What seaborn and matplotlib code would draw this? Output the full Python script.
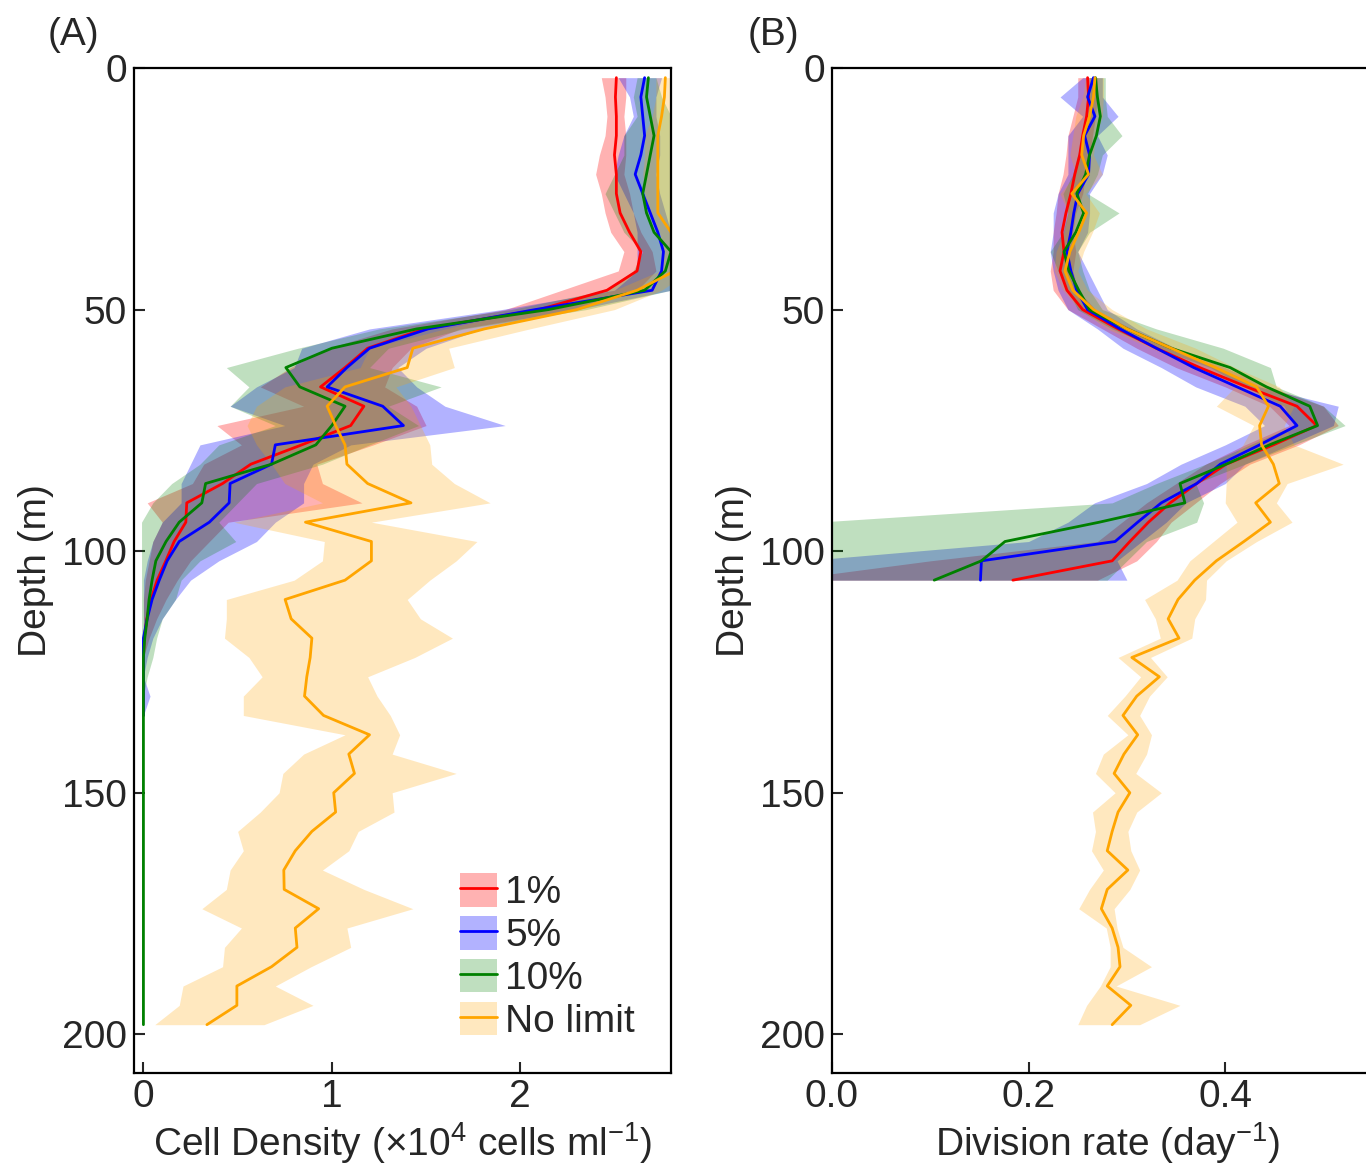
import numpy as np
import pandas as pd
import matplotlib
matplotlib.use("Agg")
import matplotlib.pyplot as plt
import seaborn as sns
from matplotlib.patches import Patch
from matplotlib.lines import Line2D

# ---------------- data ----------------
depth = [2, 6, 10, 14, 18, 22, 26, 30, 34, 38, 42, 46, 50, 54, 58, 62, 66, 70, 74, 78,
         82, 86, 90, 94, 98, 102, 106, 110, 114, 118, 122, 126, 130, 134, 138, 142, 146,
         150, 154, 158, 162, 166, 170, 174, 178, 182, 186, 190, 194, 198]

labels = ["1%", "5%", "10%", "No limit"]

# Panel A : cell density (x10^4 cells/ml)
dens_1 = [2.51, 2.505, 2.51, 2.51, 2.50, 2.51, 2.51, 2.53, 2.58, 2.64, 2.62, 2.46, 2.10,
          1.49, 1.19, 1.07, 0.94, 1.17, 1.10, 0.84, 0.57, 0.42, 0.23, 0.225, 0.163, 0.119,
          0.073, 0.04, 0.018, 0.004, 0.0, 0.0, 0.0, 0.0]
dens_1_lo = [2.43, 2.45, 2.46, 2.45, 2.42, 2.40, 2.43, 2.45, 2.48, 2.55, 2.52, 2.22, 1.92,
             1.32, 0.98, 0.78, 0.62, 0.85, 0.39, 0.52, 0.32, 0.26, 0.02, 0.10, 0.05, 0.03,
             0.01, 0.0, 0.0, 0.0, 0.0, 0.0, 0.0, 0.0]
dens_1_hi = [2.56, 2.56, 2.55, 2.56, 2.56, 2.55, 2.58, 2.60, 2.64, 2.70, 2.72, 2.62, 2.30,
             1.68, 1.42, 1.32, 1.28, 1.45, 1.50, 1.22, 0.92, 0.95, 1.16, 0.45, 0.35, 0.25,
             0.18, 0.12, 0.07, 0.03, 0.0, 0.0, 0.0, 0.0]

dens_5 = [2.66, 2.64, 2.65, 2.66, 2.64, 2.61, 2.65, 2.69, 2.73, 2.76, 2.75, 2.70, 2.08,
          1.51, 1.20, 1.08, 0.975, 1.27, 1.38, 0.70, 0.68, 0.46, 0.455, 0.35, 0.19, 0.126,
          0.084, 0.046, 0.02, 0.0, 0.0, 0.0, 0.0, 0.0]
dens_5_lo = [2.52, 2.58, 2.60, 2.55, 2.52, 2.50, 2.55, 2.60, 2.62, 2.62, 2.62, 2.50, 1.90,
             1.20, 0.84, 0.80, 0.60, 0.46, 0.75, 0.30, 0.25, 0.20, 0.20, 0.10, 0.05, 0.02,
             0.0, 0.0, 0.0, 0.0, 0.0, 0.0, 0.0, 0.0]
dens_5_hi = [2.75, 2.72, 2.72, 2.74, 2.74, 2.72, 2.74, 2.77, 2.80, 2.85, 2.85, 2.80, 2.30,
             1.80, 1.50, 1.35, 1.45, 1.60, 1.92, 1.10, 0.90, 0.85, 0.85, 0.70, 0.60, 0.40,
             0.25, 0.17, 0.10, 0.05, 0.02, 0.0, 0.035, 0.0]

dens_10 = [2.68, 2.67, 2.69, 2.71, 2.69, 2.67, 2.65, 2.67, 2.71, 2.80, 2.77, 2.66, 2.15,
           1.45, 1.00, 0.756, 0.83, 1.07, 1.00, 0.915, 0.68, 0.33, 0.31, 0.19, 0.12, 0.066,
           0.046, 0.03, 0.02, 0.007, 0.0, 0.0, 0.0, 0.0, 0.0, 0.0, 0.0, 0.0, 0.0, 0.0, 0.0,
           0.0, 0.0, 0.0, 0.0, 0.0, 0.0, 0.0, 0.0, 0.0]
dens_10_lo = [2.62, 2.60, 2.62, 2.55, 2.55, 2.50, 2.45, 2.50, 2.55, 2.65, 2.60, 2.45, 1.95,
              1.25, 0.82, 0.44, 0.56, 0.46, 0.70, 0.40, 0.30, 0.15, 0.05, -0.01, -0.01,
              -0.01, -0.01, -0.01, -0.01, -0.01, -0.01, -0.01, 0.0, 0.0, 0.0, 0.0, 0.0, 0.0,
              0.0, 0.0, 0.0, 0.0, 0.0, 0.0, 0.0, 0.0, 0.0, 0.0, 0.0, 0.0]
dens_10_hi = [2.72, 2.75, 2.80, 2.80, 2.82, 2.83, 2.82, 2.80, 2.82, 2.85, 2.85, 2.80, 2.35,
              1.70, 1.30, 1.20, 1.58, 1.30, 1.46, 1.20, 0.95, 0.60, 0.50, 0.40, 0.49, 0.30,
              0.20, 0.17, 0.10, 0.07, 0.05, 0.02, 0.0, 0.0, 0.0, 0.0, 0.0, 0.0, 0.0, 0.0,
              0.0, 0.0, 0.0, 0.0, 0.0, 0.0, 0.0, 0.0, 0.0, 0.0]

dens_nl = [2.77, 2.765, 2.75, 2.73, 2.73, 2.73, 2.73, 2.73, 2.80, 2.83, 2.82, 2.62, 2.30,
           1.81, 1.43, 1.40, 1.07, 0.975, 1.02, 1.07, 1.08, 1.19, 1.42, 0.86, 1.21, 1.21,
           1.07, 0.752, 0.784, 0.894, 0.885, 0.867, 0.855, 0.956, 1.20, 1.09, 1.12, 1.01,
           1.02, 0.894, 0.806, 0.745, 0.747, 0.93, 0.806, 0.815, 0.68, 0.496, 0.496, 0.337]
dens_nl_lo = [2.72, 2.72, 2.70, 2.66, 2.66, 2.65, 2.66, 2.68, 2.74, 2.76, 2.74, 2.50, 2.05,
              1.60, 1.20, 1.15, 0.75, 0.60, 0.55, 0.60, 0.68, 0.75, 0.95, 0.48, 0.96, 0.95,
              0.80, 0.44, 0.44, 0.43, 0.56, 0.63, 0.53, 0.53, 1.07, 0.85, 0.74, 0.72, 0.62,
              0.50, 0.53, 0.46, 0.44, 0.31, 0.52, 0.43, 0.42, 0.21, 0.19, 0.06]
dens_nl_hi = [2.85, 2.86, 2.85, 2.85, 2.85, 2.85, 2.85, 2.85, 2.88, 2.90, 2.90, 2.75, 2.50,
              2.05, 1.62, 1.65, 1.34, 1.42, 1.47, 1.52, 1.53, 1.65, 1.84, 1.21, 1.77, 1.66,
              1.52, 1.40, 1.47, 1.64, 1.44, 1.19, 1.24, 1.31, 1.36, 1.32, 1.66, 1.32, 1.33,
              1.14, 1.09, 0.95, 1.17, 1.43, 1.08, 1.10, 0.89, 0.70, 0.90, 0.64]

# Panel B : division rate (day^-1)
div_1 = [0.260, 0.261, 0.259, 0.255, 0.252, 0.247, 0.243, 0.238, 0.234, 0.236, 0.232, 0.239,
         0.255, 0.291, 0.330, 0.374, 0.422, 0.473, 0.493, 0.449, 0.401, 0.371, 0.344, 0.322,
         0.303, 0.285, 0.184]
div_1_lo = [0.250, 0.250, 0.245, 0.240, 0.238, 0.235, 0.230, 0.228, 0.225, 0.225, 0.222,
            0.225, 0.240, 0.275, 0.310, 0.350, 0.400, 0.445, 0.465, 0.420, 0.380, 0.350,
            0.320, 0.295, 0.270, 0.100, -0.05]
div_1_hi = [0.270, 0.270, 0.268, 0.265, 0.262, 0.258, 0.255, 0.248, 0.245, 0.248, 0.245,
            0.250, 0.268, 0.305, 0.350, 0.400, 0.445, 0.500, 0.515, 0.475, 0.425, 0.395,
            0.370, 0.345, 0.330, 0.310, 0.270]

div_5 = [0.266, 0.260, 0.2675, 0.257, 0.262, 0.261, 0.250, 0.246, 0.243, 0.239, 0.243, 0.249,
         0.260, 0.293, 0.330, 0.368, 0.412, 0.456, 0.473, 0.435, 0.395, 0.371, 0.335, 0.311,
         0.288, 0.152, 0.151]
div_5_lo = [0.255, 0.232, 0.255, 0.240, 0.240, 0.240, 0.230, 0.225, 0.225, 0.222, 0.225,
            0.230, 0.240, 0.270, 0.296, 0.335, 0.370, 0.420, 0.440, 0.400, 0.355, 0.320,
            0.267, 0.240, 0.200, -0.03, -0.03]
div_5_hi = [0.275, 0.275, 0.291, 0.270, 0.280, 0.275, 0.262, 0.262, 0.260, 0.250, 0.260,
            0.270, 0.280, 0.310, 0.350, 0.390, 0.435, 0.515, 0.510, 0.465, 0.420, 0.400,
            0.360, 0.340, 0.315, 0.290, 0.300]

div_10 = [0.268, 0.270, 0.273, 0.269, 0.262, 0.258, 0.249, 0.256, 0.248, 0.236, 0.241,
          0.251, 0.262, 0.300, 0.345, 0.405, 0.442, 0.486, 0.494, 0.445, 0.401, 0.354,
          0.359, 0.272, 0.176, 0.152, 0.104]
div_10_lo = [0.262, 0.262, 0.260, 0.255, 0.250, 0.245, 0.235, 0.240, 0.235, 0.222, 0.230,
             0.240, 0.250, 0.285, 0.330, 0.385, 0.420, 0.460, 0.470, 0.425, 0.380, 0.330,
             0.285, -0.015, -0.02, -0.02, -0.02]
div_10_hi = [0.278, 0.278, 0.280, 0.295, 0.275, 0.270, 0.260, 0.292, 0.262, 0.250, 0.255,
             0.262, 0.275, 0.330, 0.398, 0.446, 0.452, 0.500, 0.522, 0.470, 0.420, 0.370,
             0.378, 0.371, 0.320, 0.300, 0.280]

div_nl = [0.2675, 0.266, 0.262, 0.256, 0.254, 0.261, 0.244, 0.259, 0.251, 0.242, 0.237,
          0.245, 0.266, 0.300, 0.345, 0.390, 0.432, 0.444, 0.435, 0.437, 0.449, 0.455,
          0.431, 0.446, 0.419, 0.391, 0.369, 0.352, 0.342, 0.353, 0.305, 0.333, 0.310,
          0.296, 0.311, 0.297, 0.287, 0.303, 0.291, 0.285, 0.280, 0.301, 0.280, 0.274,
          0.285, 0.291, 0.293, 0.280, 0.304, 0.285]
div_nl_lo = [0.258, 0.255, 0.248, 0.245, 0.242, 0.248, 0.232, 0.240, 0.236, 0.228, 0.226,
             0.235, 0.252, 0.280, 0.325, 0.370, 0.410, 0.391, 0.429, 0.418, 0.401, 0.401,
             0.400, 0.412, 0.388, 0.364, 0.351, 0.318, 0.329, 0.334, 0.291, 0.314, 0.298,
             0.280, 0.301, 0.276, 0.268, 0.288, 0.265, 0.268, 0.264, 0.276, 0.262, 0.251,
             0.279, 0.283, 0.283, 0.273, 0.259, 0.250]
div_nl_hi = [0.276, 0.276, 0.275, 0.268, 0.266, 0.275, 0.258, 0.272, 0.265, 0.256, 0.250,
             0.260, 0.285, 0.320, 0.370, 0.410, 0.455, 0.470, 0.460, 0.470, 0.520, 0.463,
             0.452, 0.468, 0.432, 0.401, 0.381, 0.380, 0.369, 0.366, 0.324, 0.341, 0.323,
             0.313, 0.325, 0.320, 0.309, 0.335, 0.310, 0.301, 0.304, 0.313, 0.303, 0.287,
             0.290, 0.296, 0.325, 0.289, 0.354, 0.313]

# ---------------- style ----------------
sns.set_style("ticks")
plt.rcParams["font.family"] = ["Liberation Sans", "DejaVu Sans"]
plt.rcParams["mathtext.fontset"] = "custom"
plt.rcParams["mathtext.rm"] = "Liberation Sans"
plt.rcParams["mathtext.it"] = "Liberation Sans:italic"
plt.rcParams["mathtext.default"] = "regular"

colors = ["red", "blue", "green", "orange"]
alphas = [0.3, 0.3, 0.25, 0.25]
FS = 28
LW = 2.0

W, H = 1366, 1165
fig = plt.figure(figsize=(W / 100, H / 100), dpi=100)
axA = fig.add_axes([134 / W, 92 / H, 537 / W, 1005 / H])
axB = fig.add_axes([832 / W, 92 / H, 0.56 * 983 / W, 1005 / H])

seriesA = [(dens_1, dens_1_lo, dens_1_hi), (dens_5, dens_5_lo, dens_5_hi),
           (dens_10, dens_10_lo, dens_10_hi), (dens_nl, dens_nl_lo, dens_nl_hi)]
seriesB = [(div_1, div_1_lo, div_1_hi), (div_5, div_5_lo, div_5_hi),
           (div_10, div_10_lo, div_10_hi), (div_nl, div_nl_lo, div_nl_hi)]

for ax, series in [(axA, seriesA), (axB, seriesB)]:
    for (m, lo, hi), c, a in zip(series, colors, alphas):
        d = depth[:len(m)]
        ax.fill_betweenx(d, lo, hi, color=c, alpha=a, lw=0)
        df = pd.DataFrame({"val": m, "depth": d})
        sns.lineplot(data=df, x="val", y="depth", orient="y", estimator=None,
                     color=c, linewidth=LW, ax=ax)

for ax in (axA, axB):
    ax.set_ylim(208, 0)
    ax.set_yticks([0, 50, 100, 150, 200])
    ax.tick_params(direction="in", length=8, width=1.5, labelsize=FS)
    ax.tick_params(axis="y", pad=5)
    ax.tick_params(axis="x", pad=4)
    for s in ax.spines.values():
        s.set_linewidth(1.6)
        s.set_color("black")
    ax.set_ylabel("Depth (m)", fontsize=FS, labelpad=6)

axA.set_xlim(-0.05, 2.80)
axA.set_xticks([0, 1, 2])
axA.set_xlabel(r"Cell Density ($\times$10$^{4}$ cells ml$^{-1}$)", fontsize=FS, labelpad=4)

axB.set_xlim(0, 0.56)
axB.set_xticks([0.0, 0.2, 0.4])
axB.set_xticklabels(["0.0", "0.2", "0.4"])
axB.set_xlabel(r"Division rate (day$^{-1}$)", fontsize=FS, labelpad=4)

handles = [(Patch(facecolor=c, alpha=a, lw=0), Line2D([], [], color=c, lw=LW))
           for c, a in zip(colors, alphas)]
axA.legend(handles, labels, loc="lower left", bbox_to_anchor=(0.608, 0.033),
           frameon=False, fontsize=FS, handlelength=0.95, handleheight=0.95,
           handletextpad=0.2, labelspacing=0.12, borderaxespad=0, borderpad=0.0)

fig.text(73 / W, 1 - 35 / H, "(A)", fontsize=FS, va="center", ha="center")
fig.text(773 / W, 1 - 35 / H, "(B)", fontsize=FS, va="center", ha="center")

fig.savefig("out.png", dpi=100)
